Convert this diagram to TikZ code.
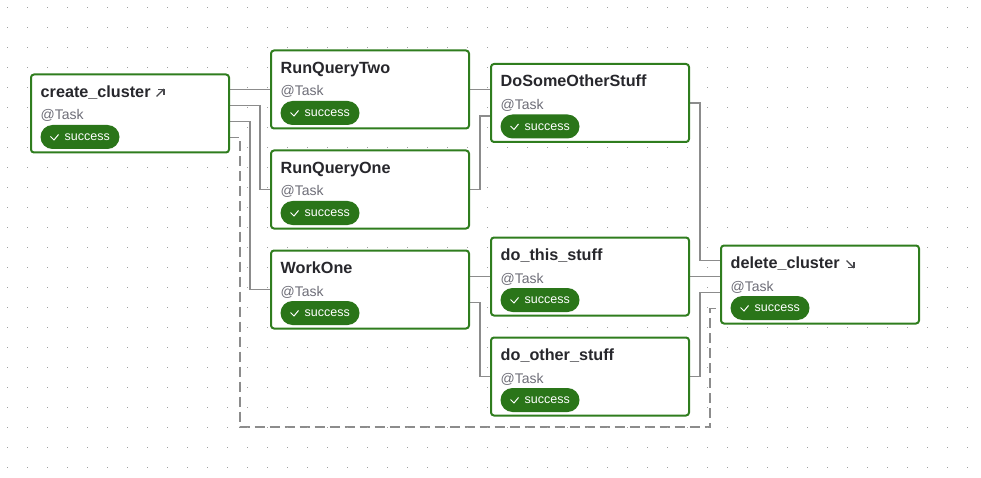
\documentclass[tikz,border=0pt]{standalone}
\usepackage{fontspec}
\setmainfont{Liberation Sans}
\usetikzlibrary{backgrounds, positioning}
\definecolor{taskgreen}{HTML}{2F7D1E}
\definecolor{badgegreen}{HTML}{2A7519}
\definecolor{titleink}{HTML}{27272C}
\definecolor{typeink}{HTML}{6E6E78}
\definecolor{edgegray}{HTML}{8C8C8C}
\definecolor{dotgray}{HTML}{A0A0A0}
\tikzset{
    taskbox/.style={draw=taskgreen, line width=2pt, fill=white, rounded corners=3pt,
        minimum width=198pt, minimum height=78pt, inner sep=0pt, outer sep=0pt, anchor=north west},
    tasktitle/.style={font=\fontsize{16.2}{16.2}\selectfont\bfseries, text=titleink, inner sep=0pt, anchor=base west},
    tasktype/.style={font=\fontsize{14}{14}\selectfont, text=typeink, inner sep=0pt, anchor=base west},
    taskbadge/.style={fill=badgegreen, rounded corners=12pt, minimum width=79pt, minimum height=24pt,
        inner sep=0pt, outer sep=0pt, anchor=west},
    taskstate/.style={font=\fontsize{12.5}{12.5}\selectfont, text=white, inner sep=0pt, anchor=west},
    checkmark/.style={draw=white, line width=1pt},
    linkicon/.style={draw=titleink!85!white, line width=1.1pt},
    edgeline/.style={draw=edgegray, line width=1.5pt},
    edgedash/.style={edgeline, dash pattern=on 10pt off 5pt}
}
\newcommand{\taskcard}[4]{%
    \node[taskbox] (#1) at (#2, #3) {};
    \node[tasktitle] (#1Title) at ([shift={(9.5pt, -23pt)}]#1.north west) {#4};
    \node[tasktype] (#1Type) at ([shift={(9.5pt, -45.5pt)}]#1.north west) {@Task};
    \node[taskbadge] (#1Badge) at ([shift={(9.5pt, -62.5pt)}]#1.north west) {};
    \node[taskstate] (#1State) at ([shift={(24pt, -0.5pt)}]#1Badge.west) {success};
    \draw[checkmark] ([shift={(10pt, 0.5pt)}]#1Badge.west) -- ++(3.5, 3.5) -- ++(4.5, -5.5);
}
\begin{document}
\begin{tikzpicture}[x=1pt, y=-1pt]
    \useasboundingbox (0, 0) rectangle (981, 478);
    \foreach \dotx in {7, 27, ..., 967}
        \foreach \doty in {7, 27, ..., 467}
            \fill[dotgray] (\dotx, \doty) rectangle (\dotx + 1, \doty + 1);

    \taskcard{create}{31}{74.5}{create\_cluster}
    \taskcard{queryTwo}{271}{50.5}{RunQueryTwo}
    \taskcard{queryOne}{271}{150.5}{RunQueryOne}
    \taskcard{workOne}{271}{250.5}{WorkOne}
    \taskcard{someOther}{491}{64}{DoSomeOtherStuff}
    \taskcard{doThis}{491}{237.5}{do\_this\_stuff}
    \taskcard{doOther}{491}{337.5}{do\_other\_stuff}
    \taskcard{deleteCluster}{721}{245.5}{delete\_cluster}

    \draw[linkicon] (156.5, 96.5) -- (164, 89);
    \draw[linkicon] (158, 89.5) -- (164, 89.5) -- (164, 95.5);
    \draw[linkicon] (846.5, 260.5) -- (854, 268);
    \draw[linkicon] (848, 267.5) -- (854, 267.5) -- (854, 261.5);

    \coordinate (dashLow) at (710, 427);
    \begin{scope}[on background layer]
        \draw[edgeline] ([yshift=-15pt]create.north east) -- ([yshift=-15pt]create.north east -| queryTwo.west);
        \draw[edgeline] ([yshift=-31pt]create.north east) -- ++(31, 0) |- (queryOne.west);
        \draw[edgeline] ([yshift=-47pt]create.north east) -- ++(21, 0) |- (workOne.west);
        \draw[edgedash] ([yshift=-63pt]create.north east) -- ++(11, 0) |- (dashLow) |- ([yshift=-63pt]deleteCluster.north west);
        \draw[edgeline] (queryTwo.east) -- (queryTwo.east -| someOther.west);
        \draw[edgeline] (queryOne.east) -- ++(11, 0) |- ([yshift=-52pt]someOther.north west);
        \draw[edgeline] ([yshift=-26pt]workOne.north east) -- ([yshift=-26pt]workOne.north east -| doThis.west);
        \draw[edgeline] ([yshift=-52pt]workOne.north east) -- ++(11, 0) |- (doOther.west);
        \draw[edgeline] (someOther.east) -- ++(11, 0) |- ([yshift=-15pt]deleteCluster.north west);
        \draw[edgeline] (doThis.east) -- (doThis.east -| deleteCluster.west);
        \draw[edgeline] (doOther.east) -- ++(11, 0) |- ([yshift=-47pt]deleteCluster.north west);
    \end{scope}
\end{tikzpicture}
\end{document}
